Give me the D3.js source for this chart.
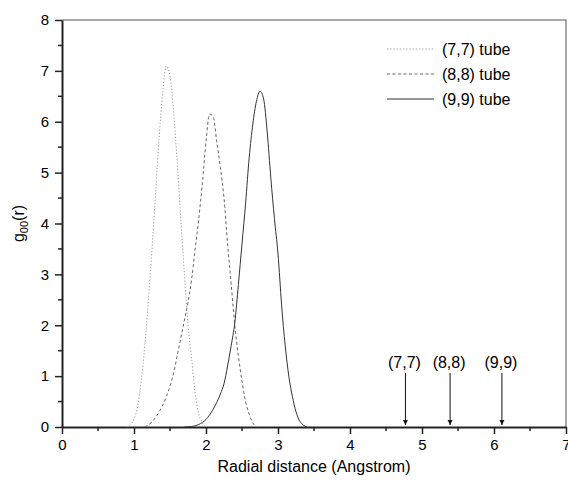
<!DOCTYPE html>
<html>
<head>
<meta charset="utf-8">
<script src="https://cdn.jsdelivr.net/npm/d3@7"></script>
<style>
  body { margin: 0; background: #fff; }
  text { font-family: "Liberation Sans", Arial, sans-serif; fill: #000; }
</style>
</head>
<body>
<div id="chart"></div>
<script>
const width = 568;
const height = 489;

// (7,7) tube, dotted
const tube77X = [0.90, 0.95, 1.00, 1.05, 1.10, 1.15, 1.20, 1.25, 1.30, 1.35, 1.40, 1.45, 1.50, 1.55, 1.60, 1.65, 1.70, 1.75, 1.80, 1.85, 1.90, 1.95, 2.00];
const tube77Y = [0, 0.05, 0.15, 0.4, 0.9, 1.6, 2.5, 3.5, 4.6, 5.7, 6.6, 7.1, 6.9, 6.2, 5.2, 4.1, 3.0, 2.0, 1.35, 0.65, 0.25, 0.08, 0];

// (8,8) tube, dashed
const tube88X = [1.15, 1.25, 1.35, 1.45, 1.55, 1.60, 1.65, 1.70, 1.75, 1.80, 1.85, 1.90, 1.95, 2.00, 2.05, 2.10, 2.15, 2.20, 2.25, 2.30, 2.35, 2.40, 2.45, 2.50, 2.55, 2.60, 2.65, 2.70];
const tube88Y = [0, 0.1, 0.3, 0.6, 1.06, 1.4, 1.75, 2.1, 2.45, 2.9, 3.5, 4.1, 4.8, 5.6, 6.15, 6.1, 5.6, 5.1, 4.5, 3.6, 2.8, 2.0, 1.4, 0.9, 0.5, 0.25, 0.08, 0];

// (9,9) tube, solid
const tube99X = [1.70, 1.80, 1.90, 2.00, 2.10, 2.20, 2.25, 2.30, 2.35, 2.40, 2.45, 2.50, 2.55, 2.60, 2.65, 2.70, 2.75, 2.80, 2.85, 2.90, 2.95, 3.00, 3.05, 3.10, 3.15, 3.20, 3.25, 3.30, 3.35, 3.40];
const tube99Y = [0, 0.01, 0.05, 0.15, 0.35, 0.65, 0.85, 1.2, 1.6, 2.05, 2.8, 3.6, 4.4, 5.3, 5.95, 6.4, 6.6, 6.45, 5.8, 4.9, 4.1, 3.4, 2.4, 1.6, 1.0, 0.6, 0.3, 0.12, 0.04, 0];

const seriesNames = ["(7,7) tube", "(8,8) tube", "(9,9) tube"];
const arrowLabels = ["(7,7)", "(8,8)", "(9,9)"];
const arrowX = [4.77, 5.39, 6.11];

const xTicks = [0, 1, 2, 3, 4, 5, 6, 7];
const yTicks = [0, 1, 2, 3, 4, 5, 6, 7, 8];

const margin = {left: 62, right: 2, top: 20, bottom: 62};

const svg = d3.select("#chart").append("svg")
    .attr("width", width)
    .attr("height", height)
    .style("display", "block");

const x = d3.scaleLinear().domain([0, 7]).range([margin.left, width - margin.right]);
const y = d3.scaleLinear().domain([0, 8]).range([height - margin.bottom, margin.top]);

// frame top/right
svg.append("path")
    .attr("d", `M${x(0)},${y(8)}H${x(7)}V${y(0)}`)
    .attr("fill", "none")
    .attr("stroke", "#8a8a8a")
    .attr("stroke-width", 1.5);

// minor ticks
const xMinor = d3.range(0.5, 7, 1);
const yMinor = d3.range(0.5, 8, 1);

svg.append("g").selectAll("line").data(xMinor).enter().append("line")
    .attr("x1", d => x(d)).attr("x2", d => x(d))
    .attr("y1", y(0)).attr("y2", y(0) + 4)
    .attr("stroke", "#222").attr("stroke-width", 1.5);

svg.append("g").selectAll("line").data(yMinor).enter().append("line")
    .attr("y1", d => y(d)).attr("y2", d => y(d))
    .attr("x1", x(0)).attr("x2", x(0) - 4)
    .attr("stroke", "#222").attr("stroke-width", 1.5);

const xAxis = svg.append("g")
    .attr("transform", `translate(0,${y(0)})`)
    .call(d3.axisBottom(x).tickValues(xTicks).tickFormat(d3.format("d"))
        .tickSize(7).tickPadding(5).tickSizeOuter(0));

const yAxis = svg.append("g")
    .attr("transform", `translate(${x(0)},0)`)
    .call(d3.axisLeft(y).tickValues(yTicks).tickFormat(d3.format("d"))
        .tickSize(7).tickPadding(6).tickSizeOuter(0));

[xAxis, yAxis].forEach(a => {
    a.select(".domain").attr("stroke", "#222").attr("stroke-width", 2);
    a.selectAll(".tick line").attr("stroke", "#222").attr("stroke-width", 1.5);
    a.selectAll(".tick text")
        .style("font-family", "'Liberation Sans', Arial, sans-serif")
        .style("font-size", "15px")
        .attr("fill", "#000");
});

// axis titles
svg.append("text")
    .attr("x", (x(0) + x(7)) / 2)
    .attr("y", 472)
    .attr("text-anchor", "middle")
    .style("font-size", "16px")
    .text("Radial distance (Angstrom)");

const yTitle = svg.append("text")
    .attr("transform", `translate(24,${(y(0) + y(8)) / 2}) rotate(-90)`)
    .attr("text-anchor", "middle")
    .style("font-size", "16px");
yTitle.append("tspan").text("g");
yTitle.append("tspan").attr("dy", 4).style("font-size", "11px").text("00");
yTitle.append("tspan").attr("dy", -4).text("(r)");

// curves
const line = d3.line().x(d => x(d[0])).y(d => y(d[1]));
const curves = [
    {xs: tube77X, ys: tube77Y, dash: "1.2,2", color: "#9a9a9a", w: 1},
    {xs: tube88X, ys: tube88Y, dash: "3,2.5", color: "#666", w: 1},
    {xs: tube99X, ys: tube99Y, dash: null, color: "#333", w: 1}
];

curves.forEach(c => {
    svg.append("path")
        .datum(c.xs.map((v, i) => [v, c.ys[i]]))
        .attr("d", line.curve(d3.curveMonotoneX))
        .attr("fill", "none")
        .attr("stroke", c.color)
        .attr("stroke-width", c.w)
        .attr("stroke-dasharray", c.dash);
});

// legend
const legend = svg.append("g");
seriesNames.forEach((name, i) => {
    const ly = 49 + i * 25;
    legend.append("line")
        .attr("x1", 387).attr("x2", 434)
        .attr("y1", ly).attr("y2", ly)
        .attr("stroke", curves[i].color)
        .attr("stroke-width", 1)
        .attr("stroke-dasharray", curves[i].dash);
    legend.append("text")
        .attr("x", 442).attr("y", ly + 6)
        .style("font-size", "16px")
        .text(name);
});

// arrows
svg.append("defs").append("marker")
    .attr("id", "arrowhead")
    .attr("viewBox", "0 0 10 10")
    .attr("refX", 10).attr("refY", 5)
    .attr("markerWidth", 5).attr("markerHeight", 8)
    .attr("markerUnits", "userSpaceOnUse")
    .attr("orient", "auto")
    .append("path")
    .attr("d", "M0,0L10,5L0,10Z")
    .attr("fill", "#111");

arrowLabels.forEach((lab, i) => {
    svg.append("line")
        .attr("x1", x(arrowX[i])).attr("x2", x(arrowX[i]))
        .attr("y1", 373).attr("y2", 425)
        .attr("stroke", "#111")
        .attr("stroke-width", 1)
        .attr("marker-end", "url(#arrowhead)");
    svg.append("text")
        .attr("x", x(arrowX[i]) - 1)
        .attr("y", 368)
        .attr("text-anchor", "middle")
        .style("font-size", "16px")
        .text(lab);
});
</script>
</body>
</html>
